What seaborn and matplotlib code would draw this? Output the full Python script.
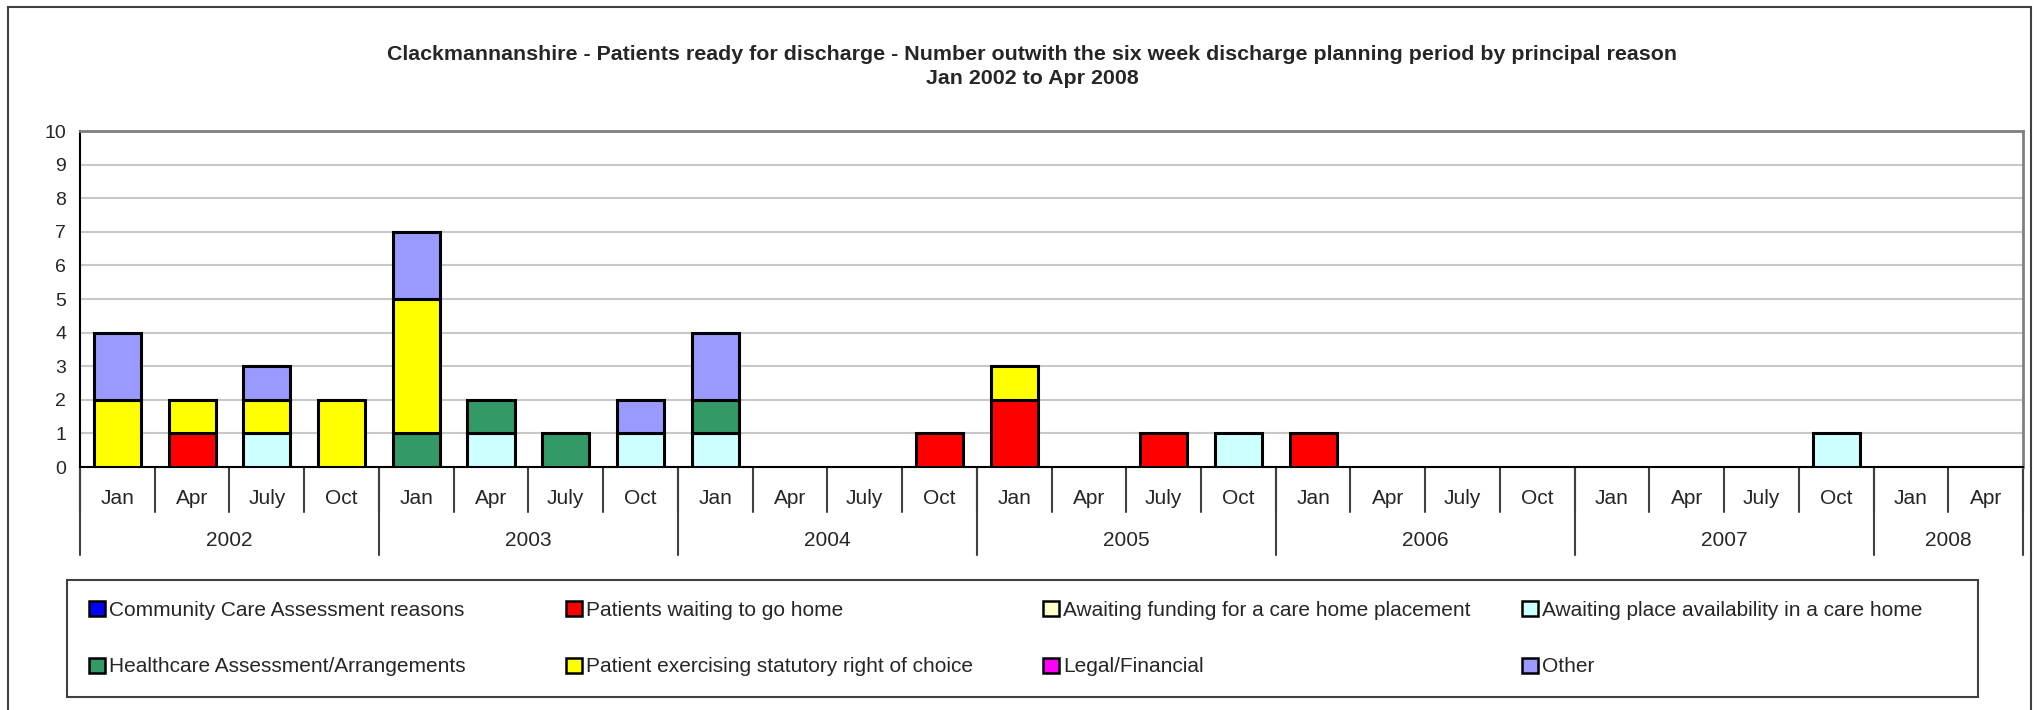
import matplotlib
matplotlib.use("Agg")
import matplotlib.pyplot as plt
from matplotlib.patches import Patch, Rectangle
from matplotlib.transforms import blended_transform_factory
import numpy as np
import pandas as pd
import seaborn as sns

# quarters Jan 2002 .. Apr 2008
months = ["Jan", "Apr", "July", "Oct"] * 6 + ["Jan", "Apr"]
years = ["2002", "2003", "2004", "2005", "2006", "2007", "2008"]

reasons = [
    "Community Care Assessment reasons",
    "Patients waiting to go home",
    "Awaiting funding for a care home placement",
    "Awaiting place availability in a care home",
    "Healthcare Assessment/Arrangements",
    "Patient exercising statutory right of choice",
    "Legal/Financial",
    "Other",
]
colours = ["#0000FF", "#FF0000", "#FFFFCC", "#CCFFFF",
           "#339966", "#FFFF00", "#FF00FF", "#9999FF"]

community = [0] * 26
waiting_home = [0, 1, 0, 0, 0, 0, 0, 0, 0, 0, 0, 1, 2, 0, 1, 0, 1, 0, 0, 0, 0, 0, 0, 0, 0, 0]
funding = [0] * 26
place = [0, 0, 1, 0, 0, 1, 0, 1, 1, 0, 0, 0, 0, 0, 0, 1, 0, 0, 0, 0, 0, 0, 0, 1, 0, 0]
healthcare = [0, 0, 0, 0, 1, 1, 1, 0, 1, 0, 0, 0, 0, 0, 0, 0, 0, 0, 0, 0, 0, 0, 0, 0, 0, 0]
choice = [2, 1, 1, 2, 4, 0, 0, 0, 0, 0, 0, 0, 1, 0, 0, 0, 0, 0, 0, 0, 0, 0, 0, 0, 0, 0]
legal = [0] * 26
other = [2, 0, 1, 0, 2, 0, 0, 1, 2, 0, 0, 0, 0, 0, 0, 0, 0, 0, 0, 0, 0, 0, 0, 0, 0, 0]

series = [community, waiting_home, funding, place, healthcare, choice, legal, other]

W, H = 2038, 710
sns.set_style("white")
plt.rcParams["font.family"] = ["Liberation Sans", "DejaVu Sans"]

fig = plt.figure(figsize=(W / 100, H / 100), dpi=100)
# plot area in pixels: x 80-2023, y 131-467
ax = fig.add_axes([80 / W, 1 - 467 / H, (2023 - 80) / W, (467 - 131) / H])

pos = np.arange(len(months))
bottom = np.zeros(len(months))
for name, vals, col in zip(reasons, series, colours):
    vals = np.array(vals, dtype=float)
    df = pd.DataFrame({"pos": pos, "val": vals})
    sns.barplot(data=df, x="pos", y="val", bottom=bottom, color=col,
                saturation=1, edgecolor="black", linewidth=2.2, width=0.63,
                errorbar=None, ax=ax, zorder=3)
    # hide empty segments so they don't leave a black line
    for p in ax.containers[-1]:
        if p.get_height() == 0:
            p.set_visible(False)
    bottom += vals

ax.set_xlim(-0.5, len(months) - 0.5)
ax.set_ylim(0, 10)
ax.set_yticks(range(0, 11))
ax.tick_params(axis="y", labelsize=14, length=6, width=1.2, color="black", pad=4)
ax.set_xticks([])
ax.set_xlabel("")
ax.set_ylabel("")
ax.yaxis.grid(True, color="#c8c8c8", linewidth=1.5, zorder=0)
ax.set_axisbelow(True)
for s in ["top", "right"]:
    ax.spines[s].set_color("#808080")
    ax.spines[s].set_linewidth(2)
for s in ["left", "bottom"]:
    ax.spines[s].set_color("black")
    ax.spines[s].set_linewidth(1.5)

# two-level category axis
tr = blended_transform_factory(ax.transData, ax.transAxes)
ph = 467 - 131
for k in range(len(months) + 1):
    ax.plot([k - 0.5, k - 0.5], [0, -45 / ph], transform=tr, color="#404040",
            lw=1.5, clip_on=False)
for k, m in enumerate(months):
    ax.text(k, -31 / ph, m, transform=tr, ha="center", va="center", fontsize=15)
for i, y in enumerate(years):
    start = i * 4
    end = min(start + 4, len(months))
    ax.plot([start - 0.5, start - 0.5], [0, -88 / ph], transform=tr,
            color="#404040", lw=1.5, clip_on=False)
    ax.text((start + end - 1) / 2, -73 / ph, y, transform=tr, ha="center",
            va="center", fontsize=15)
ax.plot([len(months) - 0.5] * 2, [0, -88 / ph], transform=tr, color="#404040",
        lw=1.5, clip_on=False)

# title
fig.text(1032 / W, 1 - 66.5 / H,
         "Clackmannanshire - Patients ready for discharge - Number outwith the six week "
         "discharge planning period by principal reason\nJan 2002 to Apr 2008",
         ha="center", va="center", fontsize=15.4, fontweight="bold", linespacing=1.3)

# legend: box plus one entry per slot, 4 columns x 2 rows
fig.patches.append(Rectangle((67 / W, 1 - 697 / H), (1978 - 67) / W, (697 - 580) / H,
                             transform=fig.transFigure, fill=False,
                             edgecolor="#404040", lw=1.5))
col_x = [89, 566, 1043, 1522]
row_y = [610, 667]
for i, (name, col) in enumerate(zip(reasons, colours)):
    cx = col_x[i % 4]
    cy = row_y[i // 4]
    h = Patch(facecolor=col, edgecolor="black", linewidth=1.8)
    fig.legend([h], [name], loc="center left",
               bbox_to_anchor=(cx / W, 1 - cy / H), frameon=False,
               fontsize=15, handlelength=0.75, handleheight=0.75,
               handletextpad=0.2, borderpad=0, borderaxespad=0)

# outer chart border
fig.patches.append(Rectangle((8 / W, -5 / H), (2031 - 8) / W, (703 + 5) / H,
                             transform=fig.transFigure, fill=False,
                             edgecolor="#404040", lw=1.5))

fig.savefig("out.png", dpi=100)
